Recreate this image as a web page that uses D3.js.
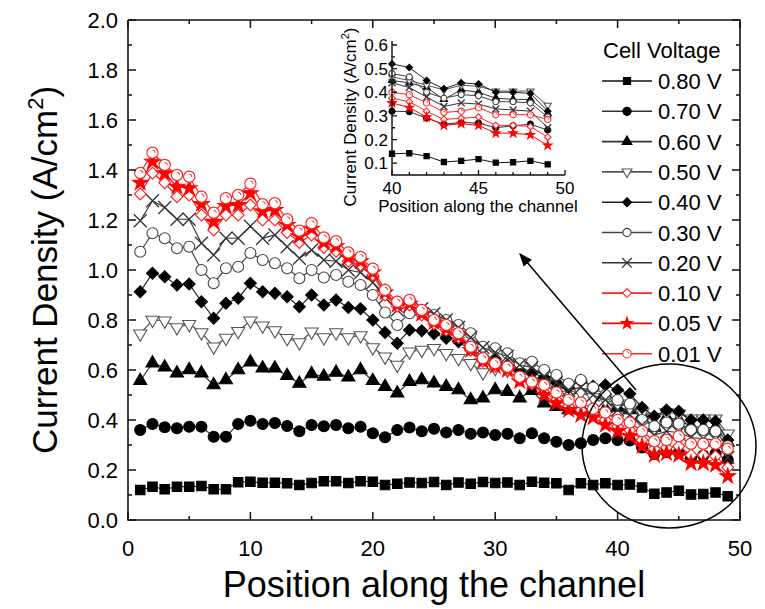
<!DOCTYPE html>
<html>
<head>
<meta charset="utf-8">
<script src="https://cdn.jsdelivr.net/npm/d3@7"></script>
<style>
body { margin: 0; background: #fff; }
svg { display: block; font-family: "Liberation Sans", Arial, sans-serif; }
</style>
</head>
<body>
<svg id="chart" width="765" height="609"></svg>
<script>
// positions along the channel (segment index)
const positions = [1,2,3,4,5,6,7,8,9,10,11,12,13,14,15,16,17,18,19,20,21,22,23,24,25,
	26,27,28,29,30,31,32,33,34,35,36,37,38,39,40,41,42,43,44,45,46,47,48,49];

// current density (A/cm2) for each cell voltage
const v080 = [0.12,0.133,0.123,0.133,0.133,0.136,0.123,0.123,0.151,0.153,0.149,0.149,0.147,0.14,0.148,0.155,0.155,0.148,0.155,0.153,
	0.14,0.145,0.15,0.148,0.152,0.14,0.15,0.145,0.152,0.148,0.15,0.14,0.153,0.149,0.147,0.12,0.147,0.14,0.147,0.14,
	0.142,0.13,0.105,0.11,0.117,0.102,0.104,0.11,0.095];
const v070 = [0.36,0.384,0.371,0.367,0.373,0.373,0.333,0.333,0.384,0.397,0.384,0.388,0.376,0.355,0.38,0.375,0.38,0.367,0.373,0.347,
	0.331,0.36,0.37,0.355,0.365,0.35,0.36,0.345,0.35,0.34,0.345,0.327,0.347,0.327,0.313,0.30,0.307,0.32,0.327,0.32,
	0.318,0.29,0.265,0.272,0.27,0.25,0.258,0.265,0.24];
const v060 = [0.557,0.627,0.611,0.587,0.6,0.587,0.54,0.56,0.6,0.631,0.607,0.607,0.577,0.546,0.584,0.574,0.59,0.571,0.6,0.557,
	0.533,0.507,0.553,0.56,0.547,0.533,0.52,0.48,0.487,0.52,0.513,0.487,0.517,0.467,0.453,0.44,0.45,0.44,0.445,0.45,
	0.44,0.42,0.37,0.41,0.4,0.375,0.37,0.37,0.31];
const v050 = [0.745,0.8,0.797,0.77,0.783,0.75,0.693,0.728,0.755,0.797,0.777,0.758,0.727,0.71,0.753,0.73,0.75,0.73,0.738,0.69,
	0.653,0.62,0.673,0.68,0.687,0.667,0.647,0.627,0.59,0.607,0.6,0.587,0.58,0.55,0.53,0.5,0.51,0.49,0.48,0.465,
	0.45,0.43,0.41,0.43,0.425,0.405,0.405,0.405,0.345];
const v040 = [0.913,0.987,0.973,0.94,0.944,0.873,0.807,0.867,0.887,0.947,0.913,0.907,0.893,0.853,0.9,0.86,0.88,0.85,0.845,0.8,
	0.75,0.707,0.76,0.757,0.745,0.727,0.713,0.68,0.653,0.64,0.62,0.6,0.59,0.57,0.55,0.53,0.56,0.535,0.54,0.52,
	0.505,0.45,0.415,0.44,0.435,0.4,0.4,0.395,0.32];
const v030 = [1.073,1.147,1.127,1.087,1.093,1.0,0.947,1.007,1.013,1.068,1.04,1.027,1.007,0.967,1.0,0.97,0.98,0.953,0.94,0.9,
	0.83,0.78,0.827,0.833,0.82,0.8,0.78,0.747,0.693,0.687,0.667,0.627,0.633,0.6,0.58,0.545,0.56,0.53,0.5,0.48,
	0.465,0.4,0.375,0.39,0.385,0.36,0.36,0.355,0.295];
const v020 = [1.197,1.277,1.25,1.203,1.203,1.107,1.06,1.127,1.127,1.175,1.127,1.14,1.093,1.047,1.08,1.04,1.035,1.0,0.99,0.95,
	0.89,0.84,0.855,0.845,0.825,0.8,0.77,0.73,0.69,0.67,0.655,0.62,0.61,0.575,0.55,0.52,0.53,0.5,0.48,0.44,
	0.42,0.38,0.34,0.355,0.35,0.33,0.325,0.32,0.25];
const v010 = [1.304,1.387,1.349,1.293,1.3,1.22,1.16,1.22,1.22,1.26,1.2,1.2,1.15,1.11,1.14,1.09,1.075,1.035,1.02,0.98,
	0.9,0.855,0.86,0.82,0.785,0.76,0.73,0.68,0.635,0.615,0.6,0.56,0.545,0.51,0.48,0.455,0.44,0.425,0.4,0.375,
	0.36,0.32,0.285,0.29,0.295,0.26,0.26,0.255,0.21];
const v005 = [1.349,1.433,1.387,1.333,1.327,1.264,1.193,1.256,1.26,1.307,1.235,1.24,1.18,1.135,1.165,1.11,1.095,1.05,1.035,0.99,
	0.91,0.86,0.865,0.825,0.79,0.765,0.735,0.68,0.635,0.615,0.6,0.555,0.55,0.5,0.467,0.44,0.42,0.41,0.38,0.355,
	0.335,0.295,0.26,0.267,0.26,0.227,0.227,0.22,0.175];
const v001 = [1.388,1.469,1.42,1.38,1.373,1.293,1.229,1.287,1.3,1.345,1.263,1.267,1.203,1.157,1.187,1.13,1.115,1.07,1.052,1.005,
	0.92,0.873,0.88,0.84,0.8,0.78,0.747,0.693,0.647,0.627,0.613,0.573,0.553,0.54,0.51,0.48,0.47,0.445,0.43,0.40,
	0.39,0.355,0.315,0.32,0.335,0.305,0.305,0.305,0.285];

const voltages = ["0.80 V","0.70 V","0.60 V","0.50 V","0.40 V","0.30 V","0.20 V","0.10 V","0.05 V","0.01 V"];
const allValues = [v080,v070,v060,v050,v040,v030,v020,v010,v005,v001];

const xTicks = [0,10,20,30,40,50];
const xMinor = [5,15,25,35,45];
const yTicks = [0,0.2,0.4,0.6,0.8,1.0,1.2,1.4,1.6,1.8,2.0];
const yMinor = [0.1,0.3,0.5,0.7,0.9,1.1,1.3,1.5,1.7,1.9];
const insetXTicks = [40,45,50];
const insetXMinor = [41,42,43,44,46,47,48,49];
const insetYTicks = [0.1,0.2,0.3,0.4,0.5,0.6];
const insetYMinor = [0.15,0.25,0.35,0.45,0.55];

// marker style per series
const styles = [
	{shape: d3.symbolSquare, size: 90, fill: '#000', stroke: '#000', line: '#111'},
	{shape: d3.symbolCircle, size: 95, fill: '#000', stroke: '#000', line: '#333'},
	{shape: d3.symbolTriangle, size: 75, fill: '#000', stroke: '#000', line: '#333'},
	{shape: d3.symbolTriangle, size: 75, fill: '#fff', stroke: '#555', line: '#555', rot: 180},
	{shape: d3.symbolDiamond2, size: 90, fill: '#000', stroke: '#000', line: '#222'},
	{shape: d3.symbolCircle, size: 95, fill: '#fff', stroke: '#444', line: '#444'},
	{shape: d3.symbolX, size: 110, fill: 'none', stroke: '#333', line: '#333'},
	{shape: d3.symbolDiamond2, size: 90, fill: '#fff', stroke: '#f22', line: '#f22'},
	{shape: d3.symbolStar, size: 75, fill: '#f00', stroke: '#f00', line: '#f00'},
	{shape: d3.symbolCircle, size: 100, fill: '#fff', stroke: '#f22', line: '#f22', dot: true},
];

const series = voltages.map((v, k) => ({
	name: v,
	style: styles[k],
	points: positions.map((p, i) => ({x: p, y: allValues[k][i]}))
}));

const svg = d3.select('#chart');
const plotLeft = 128, plotRight = 740, plotTop = 20, plotBottom = 520;

const x = d3.scaleLinear().domain([0, 50]).range([plotLeft, plotRight]);
const y = d3.scaleLinear().domain([0, 2]).range([plotBottom, plotTop]);

// one path per group of strokes, built with d3.path (same way the series lines are drawn)
function strokePath(g, segs, w) {
	const p = d3.path();
	segs.forEach(s => { p.moveTo(s[0], s[1]); p.lineTo(s[2], s[3]); });
	g.append('path')
		.attr('d', p.toString())
		.attr('fill', 'none')
		.attr('stroke', '#111')
		.attr('stroke-width', w);
}
const tickSegsX = (scale, values, y0, len) => values.map(v => [scale(v), y0, scale(v), y0 + len]);
const tickSegsY = (scale, values, x0, len) => values.map(v => [x0, scale(v), x0 + len, scale(v)]);

function drawAxes() {
	const g = svg.append('g');
	strokePath(g, [].concat(
		tickSegsX(x, xTicks, plotBottom, -8), tickSegsX(x, xMinor, plotBottom, -4),
		tickSegsX(x, xTicks, plotTop, 8), tickSegsX(x, xMinor, plotTop, 4),
		tickSegsY(y, yTicks, plotLeft, 8), tickSegsY(y, yMinor, plotLeft, 4),
		tickSegsY(y, yTicks, plotRight, -8), tickSegsY(y, yMinor, plotRight, -4)
	), 1.5);

	// frame as a closed polyline
	g.append('path')
		.attr('d', d3.line()([[plotLeft, plotTop], [plotRight, plotTop], [plotRight, plotBottom], [plotLeft, plotBottom], [plotLeft, plotTop]]))
		.attr('fill', 'none')
		.attr('stroke', '#111')
		.attr('stroke-width', 1.6);

	g.selectAll('text.xl').data(xTicks).join('text')
		.attr('class', 'xl')
		.attr('x', d => x(d)).attr('y', plotBottom + 36)
		.attr('text-anchor', 'middle').attr('font-size', 22)
		.text(d3.format('d'));
	g.selectAll('text.yl').data(yTicks).join('text')
		.attr('class', 'yl')
		.attr('x', plotLeft - 10).attr('y', d => y(d) + 8)
		.attr('text-anchor', 'end').attr('font-size', 22)
		.text(d3.format('.1f'));
}

function drawMarker(sel, st, scale) {
	sel.append('path')
		.attr('d', d3.symbol().type(st.shape).size(st.size * scale * scale))
		.attr('transform', st.rot ? `rotate(${st.rot})` : null)
		.attr('fill', st.fill)
		.attr('stroke', st.stroke)
		.attr('stroke-width', st.shape === d3.symbolX ? 1.3 : 1.1);
	if (st.dot) {
		const r = 2.6 * scale;
		sel.append('path')
			.attr('d', `M0,${-r}A${r},${r} 0 0,1 ${r},0`)
			.attr('fill', 'none').attr('stroke', st.stroke).attr('stroke-width', 1);
	}
}

function drawSeries(g, data, xs, ys, scale, lineWidth) {
	const line = d3.line().x(d => xs(d.x)).y(d => ys(d.y));
	data.forEach(s => {
		const sg = g.append('g');
		sg.append('path')
			.attr('d', line(s.points))
			.attr('fill', 'none')
			.attr('stroke', s.style.line)
			.attr('stroke-width', lineWidth);
		sg.selectAll('g.pt')
			.data(s.points)
			.join('g')
				.attr('class', 'pt')
				.attr('transform', d => `translate(${xs(d.x)},${ys(d.y)})`)
				.each(function() { drawMarker(d3.select(this), s.style, scale); });
	});
}

drawSeries(svg.append('g'), series, x, y, 1, 1.2);
drawAxes();

// axis titles
svg.append('text')
	.attr('x', (plotLeft + plotRight) / 2).attr('y', 597)
	.attr('text-anchor', 'middle').attr('font-size', 36)
	.text('Position along the channel');

const yTitle = svg.append('text')
	.attr('transform', `translate(57,${(plotTop + plotBottom) / 2}) rotate(-90)`)
	.attr('text-anchor', 'middle').attr('font-size', 35);
yTitle.append('tspan').text('Current Density (A/cm');
yTitle.append('tspan').attr('font-size', 22).attr('dy', -14).text('2');
yTitle.append('tspan').attr('dy', 14).text(')');

// legend
const legend = svg.append('g').attr('font-size', 22);
legend.append('text').attr('x', 603).attr('y', 58).text('Cell Voltage');
series.forEach((s, k) => {
	const ly = 81 + k * 30.3;
	const row = legend.append('g');
	row.append('line')
		.attr('x1', 602).attr('x2', 652).attr('y1', ly).attr('y2', ly)
		.attr('stroke', s.style.line).attr('stroke-width', 1.6);
	drawMarker(row.append('g').attr('transform', `translate(627,${ly})`), s.style, 0.75);
	row.append('text').attr('x', 658).attr('y', ly + 8).text(s.name);
});

// highlight ellipse + arrow to the inset
svg.append('ellipse')
	.attr('cx', 669).attr('cy', 446).attr('rx', 87).attr('ry', 82)
	.attr('fill', 'none').attr('stroke', '#000').attr('stroke-width', 1.5);

svg.append('defs').append('marker')
	.attr('id', 'arrowhead').attr('viewBox', '0 0 10 10')
	.attr('refX', 9).attr('refY', 5)
	.attr('markerWidth', 9).attr('markerHeight', 9)
	.attr('orient', 'auto')
	.append('path').attr('d', 'M0,1L10,5L0,9Z').attr('fill', '#000');

svg.append('line')
	.attr('x1', 636).attr('y1', 390).attr('x2', 520).attr('y2', 254)
	.attr('stroke', '#000').attr('stroke-width', 1.5)
	.attr('marker-end', 'url(#arrowhead)');

// inset: zoom on positions 40-49
const xIn = d3.scaleLinear().domain([40, 50]).range([392, 565]);
const yIn = d3.scaleLinear().domain([0.05, 0.6]).range([175, 45]);
const inset = svg.append('g');

const insetData = series.map(s => ({
	name: s.name,
	style: s.style,
	points: s.points.filter(p => p.x >= 40)
}));
drawSeries(inset.append('g'), insetData, xIn, yIn, 0.55, 1);

const insetAxes = inset.append('g');
strokePath(insetAxes, [].concat(
	tickSegsX(xIn, insetXTicks, 175, -5), tickSegsX(xIn, insetXMinor, 175, -3),
	tickSegsY(yIn, insetYTicks, 392, 5), tickSegsY(yIn, insetYMinor, 392, 3)
), 1.3);
insetAxes.append('path')
	.attr('d', d3.line()([[392, yIn(0.6) - 4], [392, 175], [565, 175]]))
	.attr('fill', 'none')
	.attr('stroke', '#111')
	.attr('stroke-width', 1.4);
insetAxes.selectAll('text.ixl').data(insetXTicks).join('text')
	.attr('class', 'ixl')
	.attr('x', d => xIn(d)).attr('y', 194)
	.attr('text-anchor', 'middle').attr('font-size', 17)
	.text(d3.format('d'));
insetAxes.selectAll('text.iyl').data(insetYTicks).join('text')
	.attr('class', 'iyl')
	.attr('x', 388).attr('y', d => yIn(d) + 6)
	.attr('text-anchor', 'end').attr('font-size', 17)
	.text(d3.format('.1f'));

inset.append('text')
	.attr('x', 478).attr('y', 212)
	.attr('text-anchor', 'middle').attr('font-size', 17)
	.text('Position along the channel');
const yInTitle = inset.append('text')
	.attr('transform', 'translate(356,117) rotate(-90)')
	.attr('text-anchor', 'middle').attr('font-size', 17);
yInTitle.append('tspan').text('Current Density (A/cm');
yInTitle.append('tspan').attr('font-size', 11).attr('dy', -7).text('2');
yInTitle.append('tspan').attr('dy', 7).text(')');
</script>
</body>
</html>
